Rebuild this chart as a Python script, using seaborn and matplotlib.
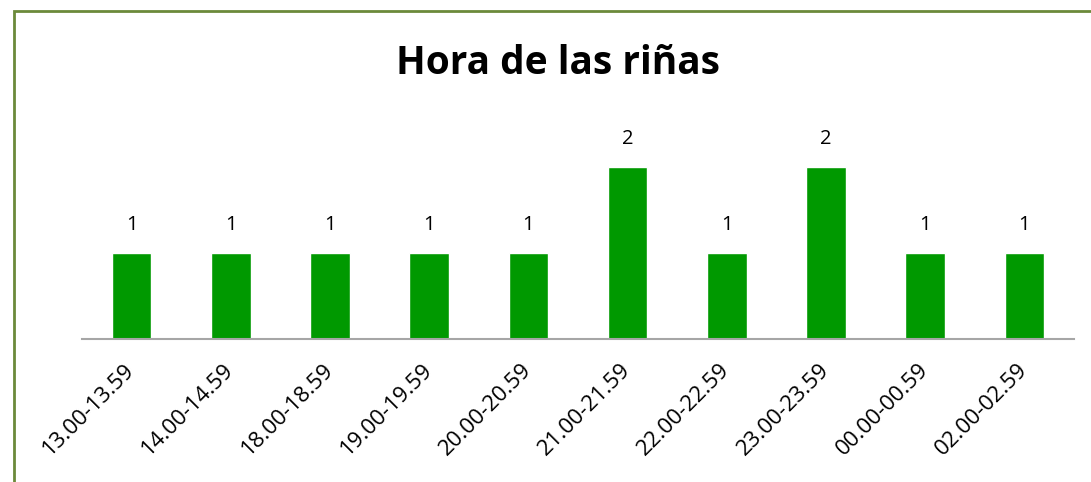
import matplotlib
matplotlib.use("Agg")
import matplotlib.pyplot as plt
import seaborn as sns
import pandas as pd
from matplotlib.patches import Rectangle

# Data
franjas = ["13.00-13.59", "14.00-14.59", "18.00-18.59", "19.00-19.59", "20.00-20.59",
           "21.00-21.59", "22.00-22.59", "23.00-23.59", "00.00-00.59", "02.00-02.59"]
rinas = [1, 1, 1, 1, 1, 2, 1, 2, 1, 1]

df = pd.DataFrame({"franja": franjas, "rinas": rinas})

sns.set_theme(style="white")
plt.rcParams['font.family'] = ['Open Sans', 'DejaVu Sans']

fig = plt.figure(figsize=(10.91, 4.82), dpi=100)
ax = fig.add_axes([82 / 1091, 1 - 339 / 482, 992 / 1091, 215 / 482])

sns.barplot(data=df, x="franja", y="rinas", color="#009900", saturation=1,
            width=0.4, ax=ax)

ax.set_ylim(0, 2.5)
ax.set_xlim(-0.5, len(franjas) - 0.5)
ax.set_xlabel("")
ax.set_ylabel("")
ax.set_yticks([])
for side in ["top", "right", "left"]:
    ax.spines[side].set_visible(False)
ax.spines["bottom"].set_color("#a6a6a6")
ax.spines["bottom"].set_linewidth(1.5)

for cont in ax.containers:
    ax.bar_label(cont, padding=13, fontsize=14.5, color="black")

ax.tick_params(axis="x", length=0, pad=20)
for lbl in ax.get_xticklabels():
    lbl.set_rotation(45)
    lbl.set_ha("right")
    lbl.set_va("center")
    lbl.set_rotation_mode("anchor")
    lbl.set_fontsize(16)
    lbl.set_color("black")

fig.text(558 / 1091, 1 - 64 / 482, "Hora de las riñas", ha="center", va="center",
         fontsize=28, fontweight="bold", color="black")

# chart area border (only left and top edges visible)
fig.patches.append(Rectangle((14 / 1091, -0.1), 1.2, 1 - 11 / 482 + 0.1,
                             transform=fig.transFigure, fill=False,
                             edgecolor="#6b8a3a", linewidth=2))

fig.savefig("out.png", dpi=100)
